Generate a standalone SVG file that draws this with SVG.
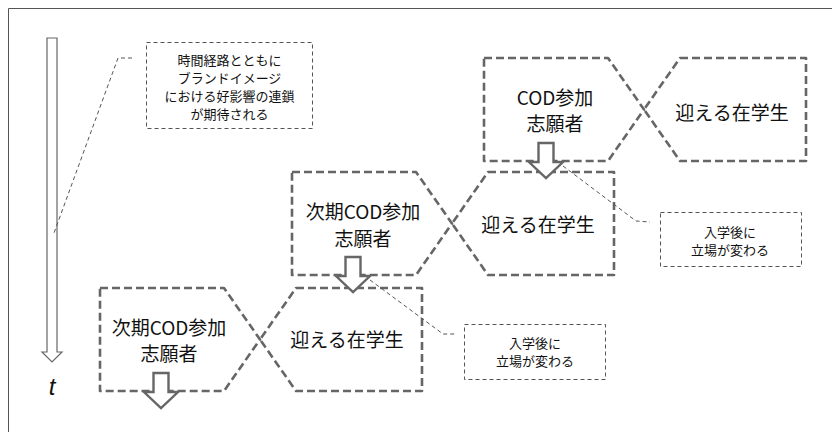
<svg xmlns="http://www.w3.org/2000/svg" width="832" height="432" viewBox="0 0 832 432">
<style>
.bg{fill:#fff}
.frame{fill:none;stroke:#555;stroke-width:1}
.hex{fill:none;stroke:#666;stroke-width:2.6;stroke-dasharray:8,4;stroke-linejoin:round}
.note{fill:none;stroke:#555;stroke-width:1;stroke-dasharray:4,3}
.lead{fill:none;stroke:#555;stroke-width:1;stroke-dasharray:4,3}
.blk{fill:#fff;stroke:#666;stroke-width:2.4;stroke-linejoin:miter}
.tarrow{fill:#fff;stroke:#666;stroke-width:1.2}
.big{font-family:"Noto Sans CJK JP","Noto Sans",sans-serif;font-size:19px;fill:#111;text-anchor:middle}
.small{font-family:"Noto Sans CJK JP","Noto Sans",sans-serif;font-size:13px;fill:#111;text-anchor:middle}
.t{font-family:"Liberation Sans",Arial,sans-serif;font-size:24px;font-style:italic;fill:#111;text-anchor:middle}
</style>
<rect class="bg" x="0" y="0" width="832" height="432"/>
<path class="frame" d="M8.5,432 V8.5 H832"/>

<g id="time-axis">
<polygon class="tarrow" points="47,38 57,38 57,352 62,352 52,362 42,352 47,352"/>
<text class="t" x="52" y="395">t</text>
</g>

<g id="note-brand">
<rect class="note" x="146.5" y="42.5" width="166" height="86"/>
<text class="small" x="229.5" y="65">時間経路とともに</text>
<text class="small" x="229.5" y="83">ブランドイメージ</text>
<text class="small" x="229.5" y="101">における好影響の連鎖</text>
<text class="small" x="229.5" y="119">が期待される</text>
</g>

<g id="top-applicant">
<polygon class="hex" points="484,58 608,58 644,109.5 608,161 484,161"/>
<text class="big" x="555" y="105">COD参加</text>
<text class="big" x="555" y="131">志願者</text>
</g>
<g id="top-student">
<polygon class="hex" points="680,58 806,58 806,161 680,161 644,109.5"/>
<text class="big" x="732" y="120">迎える在学生</text>
</g>

<g id="mid-applicant">
<polygon class="hex" points="292,172 416,172 452,223.5 416,275 292,275"/>
<text class="big" x="363" y="219">次期COD参加</text>
<text class="big" x="363" y="246">志願者</text>
</g>
<g id="mid-student">
<polygon class="hex" points="488,172 614,172 614,275 488,275 452,223.5"/>
<text class="big" x="538" y="232">迎える在学生</text>
</g>

<g id="bot-applicant">
<polygon class="hex" points="100,288 224,288 260,339.5 224,391 100,391"/>
<text class="big" x="169" y="335">次期COD参加</text>
<text class="big" x="169" y="361">志願者</text>
</g>
<g id="bot-student">
<polygon class="hex" points="296,288 422,288 422,391 296,391 260,339.5"/>
<text class="big" x="347" y="347">迎える在学生</text>
</g>

<g id="note-upper">
<rect class="note" x="660.5" y="212.5" width="141" height="54"/>
<text class="small" x="730" y="237">入学後に</text>
<text class="small" x="730" y="255">立場が変わる</text>
</g>
<g id="note-lower">
<rect class="note" x="464.5" y="324.5" width="141" height="55"/>
<text class="small" x="535" y="348">入学後に</text>
<text class="small" x="535" y="366">立場が変わる</text>
</g>

<g id="connectors">
<path class="lead" d="M132,58 H118 L54,233"/>
<path class="lead" d="M563,166 L636,221 L650,222"/>
<path class="lead" d="M370,280 L443,334 L455,334"/>
<polygon class="blk" points="538.5,143 553.5,143 553.5,162 563,162 546,178 529,162 538.5,162"/>
<polygon class="blk" points="345.5,257 360.5,257 360.5,276 370,276 353,292 336,276 345.5,276"/>
<polygon class="blk" points="153.5,373 168.5,373 168.5,392 178,392 161,408 144,392 153.5,392"/>
</g>
</svg>
